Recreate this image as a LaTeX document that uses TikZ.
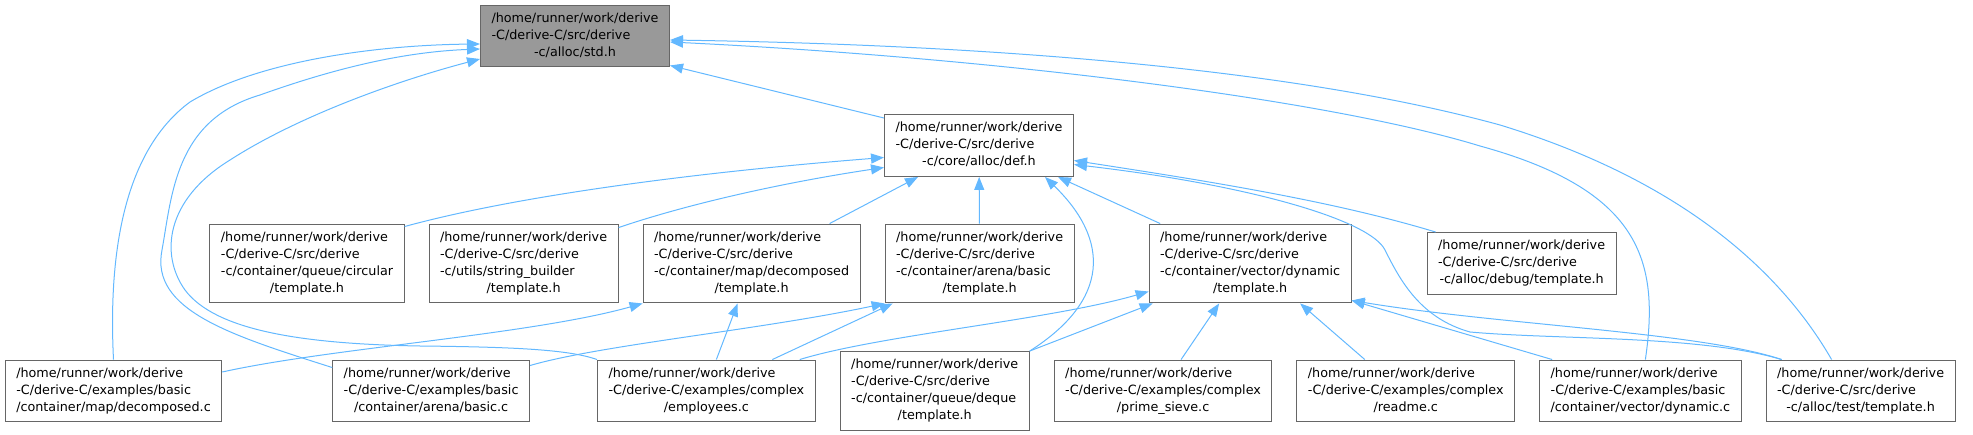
\documentclass[tikz,border=0pt]{standalone}
\usepackage{fontspec}
\setmainfont{DejaVu Sans}
\usepackage{tikz}
\usetikzlibrary{arrows.meta,positioning,calc}
\definecolor{edgeblue}{HTML}{63B8FF}
\definecolor{boxgray}{HTML}{666666}
\definecolor{rootgray}{HTML}{999999}
\newcommand{\lastline}[1]{\multicolumn{1}{@{}c@{}}{#1}}
\tikzset{
	file/.style={
		rectangle,
		draw=boxgray,
		line width=0.75pt,
		fill=white,
		inner xsep=8.25pt,
		inner ysep=4.1pt,
		font=\fontsize{9.57pt}{12.75pt}\selectfont,
	},
	rootfile/.style={
		file,
		fill=rootgray,
	},
	incl/.style={
		draw=edgeblue,
		line width=0.75pt,
		-{Triangle[length=9.75pt,width=7.5pt]},
	},
}

\begin{document}
\begin{tikzpicture}[x=0.75pt,y=-0.75pt,node distance=18pt]
	\useasboundingbox (0,0) rectangle (1973,435);
	\node [rootfile] (std) at (575,36) {\begin{tabular}{@{}l@{}}/home/runner/work/derive\\-C/derive-C/src/derive\\\lastline{-c/alloc/std.h}\end{tabular}};
	\node [file] (def) at (979,145.5) {\begin{tabular}{@{}l@{}}/home/runner/work/derive\\-C/derive-C/src/derive\\\lastline{-c/core/alloc/def.h}\end{tabular}};
	
	\node [file] (circular) at (307,263.5) {\begin{tabular}{@{}l@{}}/home/runner/work/derive\\-C/derive-C/src/derive\\-c/container/queue/circular\\\lastline{/template.h}\end{tabular}};
	\node [file] (strbuild) [right=of circular] {\begin{tabular}{@{}l@{}}/home/runner/work/derive\\-C/derive-C/src/derive\\-c/utils/string\_builder\\\lastline{/template.h}\end{tabular}};
	\node [file] (maptmpl) [right=of strbuild] {\begin{tabular}{@{}l@{}}/home/runner/work/derive\\-C/derive-C/src/derive\\-c/container/map/decomposed\\\lastline{/template.h}\end{tabular}};
	\node [file] (arenatmpl) [right=of maptmpl] {\begin{tabular}{@{}l@{}}/home/runner/work/derive\\-C/derive-C/src/derive\\-c/container/arena/basic\\\lastline{/template.h}\end{tabular}};
	\node [file] (vectmpl) [right=55.5pt of arenatmpl] {\begin{tabular}{@{}l@{}}/home/runner/work/derive\\-C/derive-C/src/derive\\-c/container/vector/dynamic\\\lastline{/template.h}\end{tabular}};
	\node [file] (debug) [right=56.25pt of vectmpl] {\begin{tabular}{@{}l@{}}/home/runner/work/derive\\-C/derive-C/src/derive\\\lastline{-c/alloc/debug/template.h}\end{tabular}};
	
	\node [file] (mapdemo) at (113.5,391) {\begin{tabular}{@{}l@{}}/home/runner/work/derive\\-C/derive-C/examples/basic\\\lastline{/container/map/decomposed.c}\end{tabular}};
	\node [file] (arenademo) [right=82.5pt of mapdemo] {\begin{tabular}{@{}l@{}}/home/runner/work/derive\\-C/derive-C/examples/basic\\\lastline{/container/arena/basic.c}\end{tabular}};
	\node [file] (employees) [right=50.25pt of arenademo] {\begin{tabular}{@{}l@{}}/home/runner/work/derive\\-C/derive-C/examples/complex\\\lastline{/employees.c}\end{tabular}};
	\node [file] (deque) [right=of employees] {\begin{tabular}{@{}l@{}}/home/runner/work/derive\\-C/derive-C/src/derive\\-c/container/queue/deque\\\lastline{/template.h}\end{tabular}};
	\node [file] (sieve) [right=of deque] {\begin{tabular}{@{}l@{}}/home/runner/work/derive\\-C/derive-C/examples/complex\\\lastline{/prime\_sieve.c}\end{tabular}};
	\node [file] (readme) [right=of sieve] {\begin{tabular}{@{}l@{}}/home/runner/work/derive\\-C/derive-C/examples/complex\\\lastline{/readme.c}\end{tabular}};
	\node [file] (vecdemo) [right=of readme] {\begin{tabular}{@{}l@{}}/home/runner/work/derive\\-C/derive-C/examples/basic\\\lastline{/container/vector/dynamic.c}\end{tabular}};
	\node [file] (testalloc) [right=of vecdemo] {\begin{tabular}{@{}l@{}}/home/runner/work/derive\\-C/derive-C/src/derive\\\lastline{-c/alloc/test/template.h}\end{tabular}};
	
	\draw[incl] (mapdemo.north) .. controls (108,250) and (125,150) .. (190,102) .. controls (260,60) and (380,45) .. ($(std.west)+(0,8)$);
	\draw[incl] ($(arenademo.north west)+(0,8)$) .. controls (230,335) and (150,310) .. (162,250) .. controls (172,195) and (175,120) .. (260,95) .. controls (330,70) and (400,52) .. ($(std.west)+(0,13)$);
	\draw[incl] (employees.north west) .. controls (570,350) and (520,347) .. (420,346) .. controls (300,344) and (215,330) .. (185,290) .. controls (160,255) and (165,200) .. (230,160) .. controls (300,115) and (400,80) .. ($(std.west)+(0,23)$);
	\draw[incl] ($(def.north west)+(0,4)$) -- ($(std.south east)+(0,-2)$);
	\draw[incl] ($(vecdemo.north)+(5,0)$) .. controls (1660,260) and (1640,190) .. (1480,146) .. controls (1330,100) and (1000,58) .. ($(std.east)+(0,6)$);
	\draw[incl] ($(testalloc.north)+(-29,0)$) .. controls (1780,270) and (1680,180) .. (1500,125) .. controls (1300,70) and (1000,45) .. ($(std.east)+(0,4)$);
	
	\draw[incl] ($(circular.north east)+(0,3)$) .. controls (520,195) and (700,172) .. ($(def.west)+(0,12)$);
	\draw[incl] ($(strbuild.north east)+(0,4)$) .. controls (700,200) and (800,180) .. ($(def.west)+(0,22)$);
	\draw[incl] ($(maptmpl.north)+(78,0)$) -- ($(def.south west)+(34,0)$);
	\draw[incl] (arenatmpl) -- (def);
	\draw[incl] (deque.north east) .. controls (1110,300) and (1110,240) .. ($(def.south)+(66,0)$);
	\draw[incl] ($(vectmpl.north)+(-90,0)$) -- ($(def.south east)+(-16,0)$);
	\draw[incl] ($(debug.north west)+(9,0)$) .. controls (1330,200) and (1200,180) .. ($(def.east)+(0,15)$);
	\draw[incl] ($(testalloc.north west)+(16,0)$) .. controls (1700,335) and (1560,340) .. (1470,332) .. controls (1420,318) and (1400,280) .. (1385,250) .. controls (1370,220) and (1250,185) .. ($(def.east)+(0,19)$);
	
	\draw[incl] ($(mapdemo.east)+(0,-19)$) .. controls (330,348) and (530,335) .. (maptmpl.south west);
	\draw[incl] ($(employees.north)+(10,0)$) -- ($(maptmpl.south)+(-14,0)$);
	\draw[incl] ($(arenademo.north east)+(0,6)$) .. controls (600,345) and (760,330) .. (arenatmpl.south west);
	\draw[incl] ($(employees.north)+(66,0)$) -- ($(arenatmpl.south west)+(8,0)$);
	\draw[incl] ($(employees.north east)+(-16,0)$) .. controls (880,335) and (1050,320) .. ($(vectmpl.west)+(0,28)$);
	\draw[incl] (deque.north east) -- ($(vectmpl.south west)+(4,0)$);
	\draw[incl] ($(sieve.north)+(18,0)$) -- ($(vectmpl.south)+(-31,0)$);
	\draw[incl] ($(readme.north)+(-41,0)$) -- ($(vectmpl.south)+(50,0)$);
	\draw[incl] ($(vecdemo.north west)+(13,0)$) -- ($(vectmpl.south east)+(0,-3)$);
	\draw[incl] ($(testalloc.north west)+(16,0)$) .. controls (1700,332) and (1500,325) .. ($(vectmpl.south east)+(0,-3)$);
\end{tikzpicture}
\end{document}
